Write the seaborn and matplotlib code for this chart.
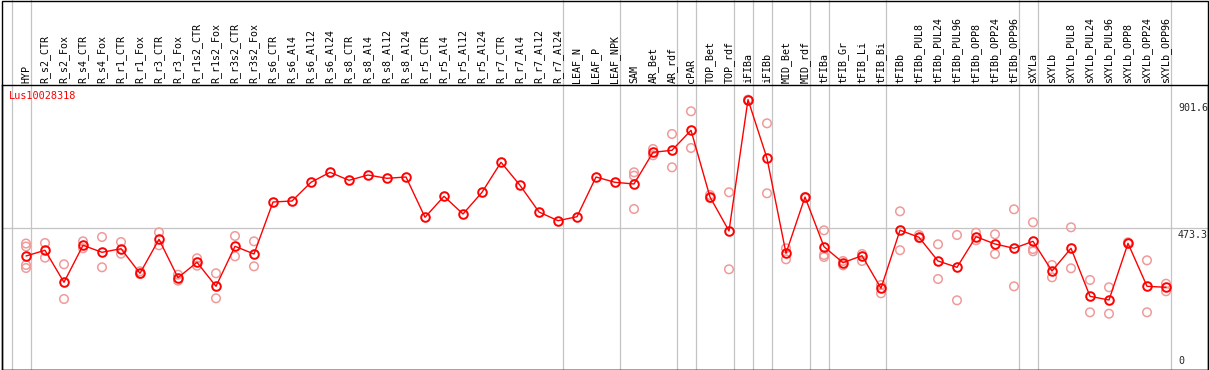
import matplotlib
matplotlib.use("Agg")
import matplotlib.pyplot as plt
from matplotlib.patches import Rectangle
import seaborn as sns
import pandas as pd

categories = ["HYP", "R_s2_CTR", "R_s2_Fox", "R_s4_CTR", "R_s4_Fox", "R_r1_CTR", "R_r1_Fox",
              "R_r3_CTR", "R_r3_Fox", "R_r1s2_CTR", "R_r1s2_Fox", "R_r3s2_CTR", "R_r3s2_Fox",
              "R_s6_CTR", "R_s6_Al4", "R_s6_Al12", "R_s6_Al24", "R_s8_CTR", "R_s8_Al4",
              "R_s8_Al12", "R_s8_Al24", "R_r5_CTR", "R_r5_Al4", "R_r5_Al12", "R_r5_Al24",
              "R_r7_CTR", "R_r7_Al4", "R_r7_Al12", "R_r7_Al24", "LEAF_N", "LEAF_P", "LEAF_NPK",
              "SAM", "AR_Bet", "AR_rdf", "cPAR", "TOP_Bet", "TOP_rdf", "iFIBa", "iFIBb",
              "MID_Bet", "MID_rdf", "tFIBa", "tFIB_Gr", "tFIB_Li", "tFIB_Bi", "tFIBb",
              "tFIBb_PUL8", "tFIBb_PUL24", "tFIBb_PUL96", "tFIBb_OPP8", "tFIBb_OPP24",
              "tFIBb_OPP96", "sXYLa", "sXYLb", "sXYLb_PUL8", "sXYLb_PUL24", "sXYLb_PUL96",
              "sXYLb_OPP8", "sXYLb_OPP24", "sXYLb_OPP96"]

means = [380.1, 399.3, 291.6, 416.1, 392.5, 404.6, 321.9, 436.3, 307.1, 358.9, 278.2, 412.7,
         386.8, 561.7, 565.1, 628.0, 661.6, 634.7, 652.5, 641.4, 645.8, 510.3, 580.9, 521.4,
         594.3, 695.3, 617.9, 528.1, 498.8, 512.3, 645.8, 628.0, 622.3, 728.9, 735.6, 802.9,
         578.5, 464.2, 906.0, 708.7, 389.2, 578.5, 411.4, 357.6, 381.1, 271.4, 466.9, 443.0,
         363.3, 342.1, 445.0, 420.5, 406.0, 429.5, 329.6, 406.0, 244.5, 232.1, 422.8, 278.2,
         274.8]

replicates = [
    [422.1, 412.0, 349.8, 339.7], [423.8, 374.4], [352.2, 235.5], [429.5, 406.0],
    [444.0, 342.1], [427.2, 387.8], [328.6, 319.5], [459.8, 416.1], [317.2, 297.0],
    [372.4, 347.5], [321.9, 237.8], [447.4, 379.1], [429.5, 345.4],
    [], [], [], [], [], [], [], [], [], [], [], [], [], [], [], [], [], [], [],
    [661.6, 650.2, 538.2], [740.0, 718.8], [790.4, 678.4], [866.8, 743.4],
    [585.3, 575.0], [594.4, 335.4], [906.0, 903.0], [826.4, 591.0], [406.0, 369.0],
    [578.5, 576.0], [466.5, 383.5, 376.7], [363.3, 348.8], [386.8, 363.3], [282.5, 254.6],
    [530.4, 399.6], [450.7, 440.6], [419.5, 302.7], [450.7, 231.1], [458.5, 432.9],
    [453.1, 386.8], [537.2, 278.2], [493.4, 403.6, 395.9], [349.8, 308.4], [476.6, 338.7],
    [299.4, 190.7], [274.8, 186.0], [426.2, 422.0], [365.6, 190.7], [286.9, 261.4],
]

group_breaks = [-1, 0, 28, 31, 34, 35, 37, 38, 39, 41, 42, 45, 52, 53, 60]
ref_line = 473.3
y_labels = ["901.6", "473.3", "0"]
y_label_values = [901.6, 473.3, 0.0]
title = "Lus10028318"

W, H = 1209, 370
sns.set_style("white")
plt.rcParams["font.family"] = ["DejaVu Sans Mono", "DejaVu Sans"]

fig = plt.figure(figsize=(W / 100, H / 100), dpi=100)
left_px, right_px, top_px, bot_px = 1.5, 1207.5, 85.0, 369.5
ax = fig.add_axes([left_px / W, 1 - bot_px / H, (right_px - left_px) / W, (bot_px - top_px) / H])

xpos = list(range(len(categories)))
mean_df = pd.DataFrame({"x": xpos, "y": means})
rx, ry = [], []
for i, reps in enumerate(replicates):
    for v in reps:
        rx.append(i)
        ry.append(v)
rep_df = pd.DataFrame({"x": rx, "y": ry})

red = "#ff0000"
pink = "#f09a9a"
grey = "#c4c4c4"

ax.axhline(ref_line, color=grey, lw=0.9, zorder=1)
span = bot_px / (bot_px - top_px)
for b in group_breaks:
    ax.axvline(b + 4.5 / 19, ymin=0, ymax=span, color=grey, lw=0.9, clip_on=False, zorder=1)

sns.scatterplot(data=rep_df, x="x", y="y", ax=ax, marker="o", s=38, facecolors="none",
                edgecolor=pink, linewidth=1.1, zorder=2, legend=False)
sns.lineplot(data=mean_df, x="x", y="y", ax=ax, color=red, lw=1.0, marker="o",
             markersize=6.2, markerfacecolor="none", markeredgecolor=red,
             markeredgewidth=1.4, zorder=3, legend=False)

ax.set_xlim((left_px - 26) / 19, (right_px - 26) / 19)
ax.set_ylim((369 - bot_px) * 3.3636, (369 - top_px) * 3.3636)
ax.set_xticks([])
ax.set_yticks([])
ax.set_xlabel("")
ax.set_ylabel("")
for s in ax.spines.values():
    s.set_visible(True)
    s.set_color("black")
    s.set_linewidth(1.0)

for i, lbl in enumerate(categories):
    ax.annotate(lbl, xy=(i, 1), xycoords=("data", "axes fraction"), xytext=(0, 2),
                textcoords="offset pixels", rotation=90, ha="center", va="bottom",
                fontsize=7.2, color="black")

lx = (1178 - left_px) / (right_px - left_px)
for txt, v in zip(y_labels, y_label_values):
    if v == 0:
        ax.annotate(txt, xy=(lx, v), xycoords=("axes fraction", "data"), xytext=(0, 3),
                    textcoords="offset pixels", ha="left", va="bottom", fontsize=7.2)
    else:
        ax.annotate(txt, xy=(lx, v), xycoords=("axes fraction", "data"), xytext=(0, -2),
                    textcoords="offset pixels", ha="left", va="top", fontsize=7.2)

fig.text(9 / W, 1 - 91 / H, title, color=red, ha="left", va="top", fontsize=7.4)

fig.add_artist(Rectangle((1.5 / W, 0.5 / H), (1206) / W, (369) / H, transform=fig.transFigure,
                         fill=False, ec="black", lw=1.0))

fig.savefig("out.png", dpi=100)
